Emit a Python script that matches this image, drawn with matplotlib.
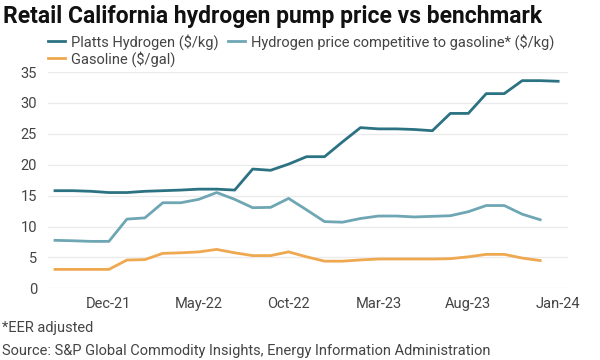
import matplotlib
matplotlib.use("Agg")
import matplotlib.pyplot as plt

# monthly data, Sep-21 .. Jan-24
months = ["Sep-21", "Oct-21", "Nov-21", "Dec-21", "Jan-22", "Feb-22", "Mar-22", "Apr-22",
          "May-22", "Jun-22", "Jul-22", "Aug-22", "Sep-22", "Oct-22", "Nov-22", "Dec-22",
          "Jan-23", "Feb-23", "Mar-23", "Apr-23", "May-23", "Jun-23", "Jul-23", "Aug-23",
          "Sep-23", "Oct-23", "Nov-23", "Dec-23", "Jan-24"]
platts = [15.8, 15.8, 15.7, 15.5, 15.5, 15.7, 15.8, 15.9, 16.05, 16.05, 15.9, 19.3, 19.1, 20.1,
          21.3, 21.3, 23.7, 26.0, 25.8, 25.8, 25.7, 25.5, 28.3, 28.3, 31.5, 31.5, 33.6, 33.6, 33.5]
competitive = [7.77, 7.7, 7.6, 7.6, 11.2, 11.4, 13.85, 13.85, 14.4, 15.5, 14.4, 13.05, 13.1, 14.55,
               12.7, 10.8, 10.7, 11.3, 11.7, 11.7, 11.55, 11.65, 11.75, 12.4, 13.4, 13.4, 12.0, 11.1]
gasoline = [3.07, 3.07, 3.07, 3.07, 4.58, 4.65, 5.66, 5.75, 5.9, 6.3, 5.75, 5.3, 5.3, 5.9,
            5.1, 4.4, 4.4, 4.6, 4.75, 4.75, 4.75, 4.75, 4.8, 5.1, 5.5, 5.5, 4.9, 4.5]
tick_months = ["Dec-21", "May-22", "Oct-22", "Mar-23", "Aug-23", "Jan-24"]
yticks = [0, 5, 10, 15, 20, 25, 30, 35]

DARK, LIGHT, ORANGE, INK = "#2b7283", "#6ea6b4", "#eea84f", "#444444"
plt.rcParams.update({"font.family": ["Roboto", "DejaVu Sans"], "font.size": 10.5})

fig = plt.figure(figsize=(6, 3.6), dpi=100)
ax = fig.add_axes([0.08, 0.199, 0.867, 0.601])

x = list(range(len(months)))
ax.plot(x, platts, color=DARK, lw=2.0, label="Platts Hydrogen ($/kg)", solid_joinstyle="round")
ax.plot(x[:len(gasoline)], gasoline, color=ORANGE, lw=2.0, label="Gasoline ($/gal)", solid_joinstyle="round")
ax.plot(x[:len(competitive)], competitive, color=LIGHT, lw=2.0,
        label="Hydrogen price competitive to gasoline* ($/kg)", solid_joinstyle="round")

ax.set_xlim(-0.39, 28.56)
ax.set_ylim(0, 35)
ax.set_yticks(yticks)
ax.set_xticks([months.index(m) for m in tick_months])
ax.set_xticklabels(tick_months)
ax.grid(axis="y", color="#ebebeb", lw=1.0)
ax.set_axisbelow(True)
ax.tick_params(length=0, colors=INK, labelsize=10.5)
ax.tick_params(axis="y", pad=8)
ax.tick_params(axis="x", pad=6)
for s in ax.spines.values():
    s.set_visible(False)

# legend: 2 columns, column-first fill gives Platts/Gasoline in col 1
h, l = ax.get_legend_handles_labels()
fig.legend(h, l, ncol=2, loc="upper left", bbox_to_anchor=(0.058, 0.943), frameon=False,
           handlelength=1.2, handletextpad=0.4, columnspacing=0.6, labelspacing=0.1,
           fontsize=10.5, labelcolor=INK)

fig.text(0.005, 0.955, "Retail California hydrogen pump price vs benchmark", fontsize=16.5,
         fontweight="bold", color="#111111", va="center")
fig.text(0.003, 0.09, "*EER adjusted", fontsize=10.5, color=INK, va="center")
fig.text(0.003, 0.025, "Source: S&P Global Commodity Insights, Energy Information Administration",
         fontsize=10.5, color=INK, va="center")

fig.savefig("out.png", dpi=100)
